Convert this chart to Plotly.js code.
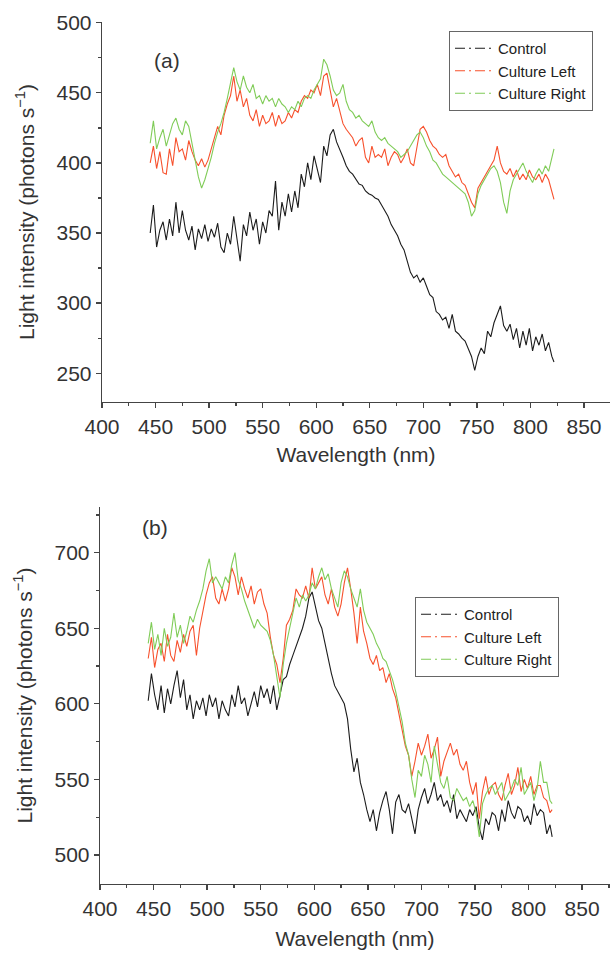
<!DOCTYPE html>
<html>
<head>
<meta charset="utf-8">
<script src="https://cdn.plot.ly/plotly-3.0.1.min.js"></script>
<style>html,body{margin:0;padding:0;background:#fff;}#chart{width:610px;height:954px;}</style>
</head>
<body>
<div id="chart"></div>
<script>
const wavelength = [445,448,451,454,457,460,463,466,469,472,475,478,481,484,487,490,493,496,499,502,505,508,511,514,517,520,523,526,529,532,535,538,541,544,547,550,553,556,559,562,565,568,571,574,577,580,583,586,589,592,595,598,601,604,607,610,613,616,619,622,625,628,631,634,637,640,643,646,649,652,655,658,661,664,667,670,673,676,679,682,685,688,691,694,697,700,703,706,709,712,715,718,721,724,727,730,733,736,739,742,745,748,751,754,757,760,763,766,769,772,775,778,781,784,787,790,793,796,799,802,805,808,811,814,817,820,822];

const seriesNames = ["Control", "Culture Left", "Culture Right"];

// Panel (a)
const controlA = [350,370,340,352,358,345,360,348,372,350,366,352,345,355,338,353,346,356,344,353,347,357,340,336,350,342,362,345,330,356,348,365,352,360,342,358,350,366,362,387,352,372,362,378,365,380,368,392,383,400,388,405,395,386,412,405,420,424,415,410,404,398,394,392,388,385,384,380,378,377,375,374,370,366,362,356,352,348,342,338,330,322,318,320,315,318,312,306,304,294,292,288,290,282,292,280,278,275,273,268,262,252,262,268,264,280,276,286,292,298,284,280,285,274,282,268,280,270,282,266,276,270,278,266,272,262,258];
const leftA = [400,412,396,408,393,392,410,398,418,408,410,402,416,408,402,398,403,397,402,410,418,426,420,434,442,448,462,444,452,440,446,434,430,438,426,434,428,430,436,426,434,428,430,436,432,438,436,444,448,446,452,450,456,448,462,464,452,440,446,436,428,424,421,418,412,416,418,404,400,412,404,406,404,410,398,404,408,406,400,404,410,400,398,412,424,426,422,416,412,410,406,404,406,398,394,390,392,386,384,378,372,368,382,386,390,394,398,402,412,400,394,392,396,390,395,388,392,388,395,390,388,392,386,392,388,380,374];
const rightA = [414,430,410,418,424,412,420,428,432,424,420,430,426,414,402,390,382,388,396,404,414,422,428,436,446,456,468,458,452,462,454,450,456,446,448,442,448,444,446,440,446,442,440,436,440,438,444,440,446,448,446,452,456,460,474,470,462,452,448,450,456,444,438,436,432,434,430,428,426,430,422,418,416,418,414,412,410,408,404,406,408,412,416,420,422,418,412,408,402,400,396,392,390,388,386,384,382,380,378,372,362,366,378,384,388,392,396,398,394,386,372,364,380,388,392,396,400,394,390,386,392,396,392,398,394,404,410];

// Panel (b)
const controlB = [602,620,606,596,612,594,610,600,612,622,604,616,596,606,590,602,596,604,592,606,598,604,590,602,596,592,606,598,612,600,604,592,600,608,598,612,604,610,600,612,596,606,616,618,626,632,638,644,650,658,670,674,664,655,650,640,628,620,612,608,604,600,590,570,555,564,548,540,530,522,530,516,528,536,542,530,514,535,540,530,528,534,524,514,530,538,544,534,540,548,536,540,532,536,528,540,524,530,526,522,530,526,532,518,510,524,520,528,526,516,530,522,536,528,524,532,530,522,526,520,534,526,530,528,514,520,512];
const leftB = [630,644,624,636,640,628,646,632,628,642,634,646,638,648,652,632,650,662,672,680,684,670,666,676,668,676,690,684,672,684,676,670,678,666,674,676,666,660,644,632,626,614,630,652,656,662,676,672,670,678,670,690,676,680,684,672,666,676,664,658,666,680,690,676,660,640,664,648,640,630,626,632,622,624,614,620,610,604,594,584,572,566,552,562,574,566,572,580,564,570,578,552,562,568,574,566,570,560,556,562,548,540,548,524,542,552,540,546,548,540,536,546,554,540,546,558,542,550,544,552,540,546,546,538,536,528,530];
const rightB = [640,654,636,646,632,650,638,644,660,644,652,640,648,658,654,662,668,676,688,696,680,684,680,676,684,680,692,700,682,676,668,662,656,650,656,652,650,648,642,632,618,604,626,640,650,660,670,664,672,668,672,680,676,684,690,682,686,676,670,664,680,688,684,676,670,664,676,662,654,650,646,640,636,630,628,622,616,608,598,588,574,566,550,538,556,552,566,560,548,572,560,548,544,552,538,536,544,540,536,538,532,536,528,512,534,540,544,546,540,544,548,536,540,544,550,546,558,540,544,548,536,544,562,548,548,536,534];

const xTickVals = [400,450,500,550,600,650,700,750,800,850];
const yTickValsA = [250,300,350,400,450,500];
const yTickValsB = [500,550,600,650,700];
const panelLabels = ["(a)", "(b)"];
const xTitle = "Wavelength (nm)";
const yTitle = "Light intensity (photons s<sup>\u22121</sup>)";

const colors = ["#1c1c1c", "#f7512d", "#80cc58"];
const FONT = "Liberation Sans, Arial, sans-serif";

const dataA = [controlA, leftA, rightA];
const dataB = [controlB, leftB, rightB];

const traces = [];
dataA.forEach((ys, i) => traces.push({x: wavelength, y: ys, xaxis: 'x', yaxis: 'y', mode: 'lines',
  line: {color: colors[i], width: 1.1}, showlegend: false, hoverinfo: 'skip'}));
dataB.forEach((ys, i) => traces.push({x: wavelength, y: ys, xaxis: 'x2', yaxis: 'y2', mode: 'lines',
  line: {color: colors[i], width: 1.1}, showlegend: false, hoverinfo: 'skip'}));
// legend entries
seriesNames.forEach((n, i) => traces.push({x: [null], y: [null], xaxis: 'x', yaxis: 'y', mode: 'lines', name: n,
  line: {color: colors[i], width: 1.2, dash: '10px,4px,2px,4px'}, legend: 'legend'}));
seriesNames.forEach((n, i) => traces.push({x: [null], y: [null], xaxis: 'x2', yaxis: 'y2', mode: 'lines', name: n,
  line: {color: colors[i], width: 1.2, dash: '10px,4px,2px,4px'}, legend: 'legend2'}));

const axisCommon = {
  showline: true, linecolor: '#444', linewidth: 1.3, showgrid: false, zeroline: false,
  ticks: 'outside', ticklen: 5, tickwidth: 1.3, tickcolor: '#444',
  tickfont: {family: FONT, size: 21, color: '#333'},
  minor: {ticks: 'outside', ticklen: 3, tickwidth: 1.3, tickcolor: '#444', dtick: 25, showgrid: false}
};

const legendCommon = {
  bordercolor: '#666', borderwidth: 1, bgcolor: '#fff',
  font: {family: FONT, size: 15, color: '#222'}, xanchor: 'left', yanchor: 'top',
  tracegroupgap: 0, itemwidth: 38
};

const layout = {
  width: 610, height: 954,
  margin: {l: 0, r: 0, t: 0, b: 0},
  paper_bgcolor: '#fff', plot_bgcolor: '#fff',
  showlegend: true,
  xaxis: Object.assign({}, axisCommon, {domain: [102/610, 1], range: [400, 874.3], anchor: 'y',
    tickvals: xTickVals, title: {text: xTitle, font: {family: FONT, size: 21, color: '#333'}, standoff: 10}}),
  yaxis: Object.assign({}, axisCommon, {domain: [1-402/954, 1-22/954], range: [229.5, 500.5], anchor: 'x',
    tickvals: yTickValsA, title: {text: yTitle, font: {family: FONT, size: 21, color: '#333'}, standoff: 16}}),
  xaxis2: Object.assign({}, axisCommon, {domain: [100/610, 1], range: [400, 876], anchor: 'y2',
    tickvals: xTickVals, title: {text: xTitle, font: {family: FONT, size: 21, color: '#333'}, standoff: 12}}),
  yaxis2: Object.assign({}, axisCommon, {domain: [1-884/954, 1-507/954], range: [480.8, 730.2], anchor: 'x2',
    tickvals: yTickValsB, title: {text: yTitle, font: {family: FONT, size: 21, color: '#333'}, standoff: 16}}),
  legend: Object.assign({}, legendCommon, {x: 449/610, y: 1-31/954}),
  legend2: Object.assign({}, legendCommon, {x: 415/610, y: 1-597/954}),
  annotations: [
    {text: panelLabels[0], xref: 'paper', yref: 'paper', x: 152/610, y: 1-47/954, showarrow: false,
     font: {family: FONT, size: 21, color: '#333'}},
    {text: panelLabels[1], xref: 'paper', yref: 'paper', x: 140/610, y: 1-527/954, showarrow: false,
     font: {family: FONT, size: 21, color: '#333'}}
  ]
};

Plotly.newPlot('chart', traces, layout, {staticPlot: true, displayModeBar: false});
</script>
</body>
</html>
